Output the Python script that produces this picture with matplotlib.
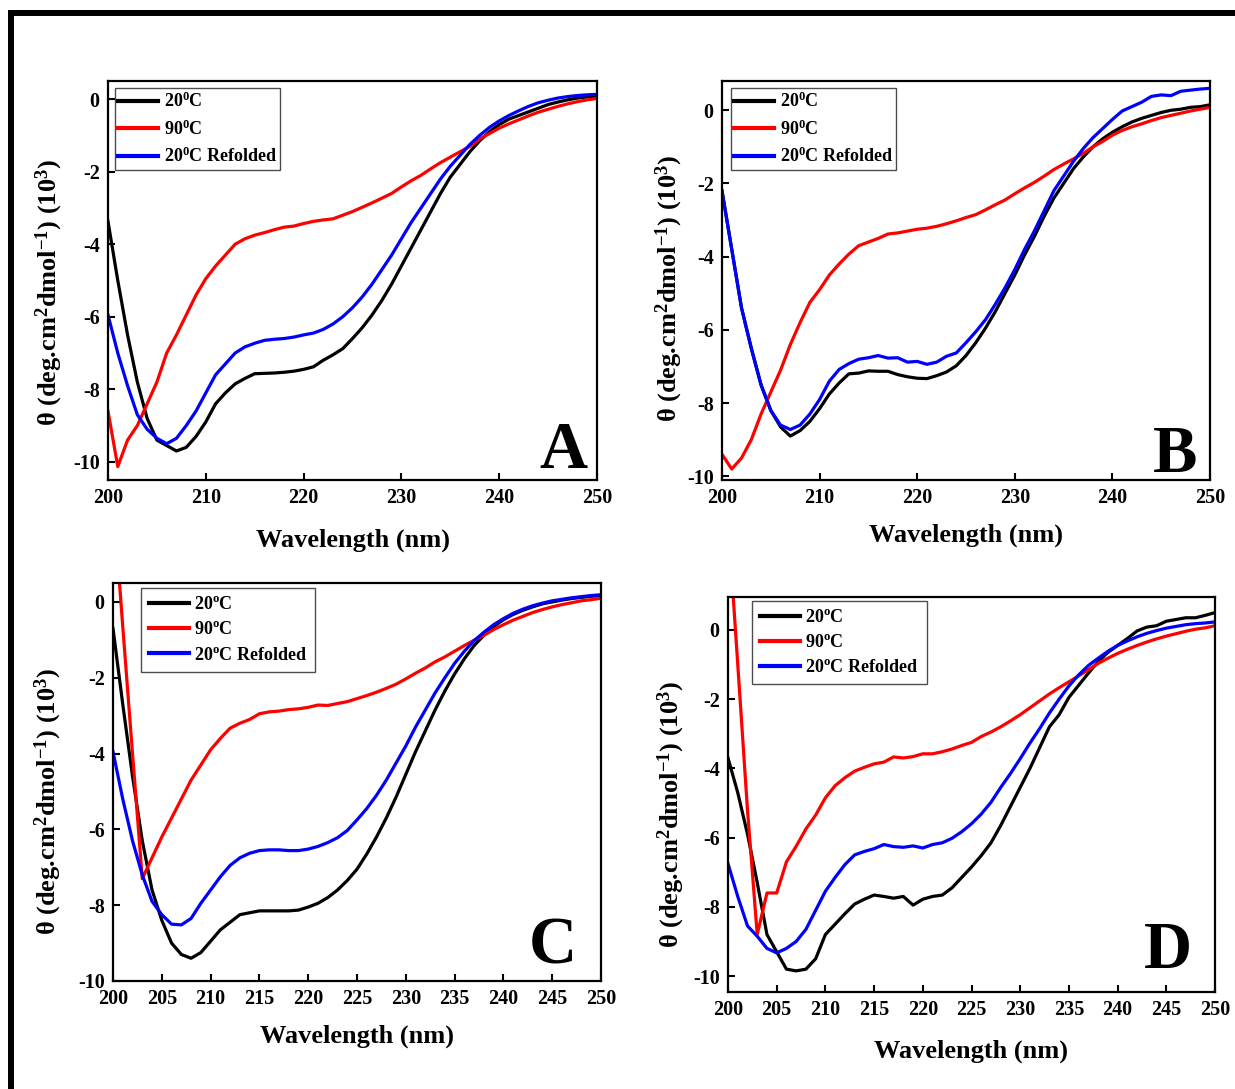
import numpy as np
import matplotlib
matplotlib.use('Agg')
import matplotlib.pyplot as plt
from matplotlib.patches import Rectangle

plt.rcParams['font.family'] = 'Liberation Serif'
plt.rcParams['font.weight'] = 'bold'
plt.rcParams['mathtext.default'] = 'regular'
plt.rcParams['axes.unicode_minus'] = False

# wavelength axis (nm), 1 nm steps
wl = np.arange(200, 251)

# Panel A
a_20 = [-3.37, -5.0, -6.5, -7.8, -8.8, -9.4, -9.55, -9.7, -9.6, -9.3,
        -8.9, -8.4, -8.1, -7.85, -7.7, -7.57, -7.56, -7.55, -7.53, -7.5,
        -7.45, -7.38, -7.2, -7.05, -6.88, -6.6, -6.3, -5.95, -5.55, -5.1,
        -4.6, -4.1, -3.6, -3.1, -2.6, -2.15, -1.8, -1.45, -1.15, -0.9,
        -0.7, -0.55, -0.45, -0.35, -0.25, -0.15, -0.08, -0.02, 0.03, 0.06, 0.08]
a_90 = [-8.6, -10.13, -9.4, -9.0, -8.4, -7.8, -7.0, -6.5, -5.95, -5.4,
        -4.95, -4.6, -4.3, -4.0, -3.85, -3.75, -3.68, -3.6, -3.53, -3.5,
        -3.43, -3.37, -3.33, -3.3, -3.2, -3.1, -2.98, -2.86, -2.73, -2.6,
        -2.42, -2.25, -2.1, -1.92, -1.75, -1.6, -1.45, -1.3, -1.1, -0.95,
        -0.8, -0.68, -0.57, -0.46, -0.36, -0.28, -0.2, -0.13, -0.07, -0.02, 0.02]
a_ref = [-5.95, -7.0, -7.9, -8.7, -9.1, -9.35, -9.5, -9.35, -9.0, -8.6,
         -8.1, -7.6, -7.3, -7.0, -6.83, -6.73, -6.65, -6.62, -6.6, -6.56,
         -6.5, -6.45, -6.35, -6.2, -6.0, -5.75, -5.45, -5.1, -4.7, -4.3,
         -3.85, -3.4, -3.0, -2.6, -2.2, -1.85, -1.55, -1.25, -1.0, -0.78,
         -0.6, -0.45, -0.32, -0.2, -0.1, -0.03, 0.03, 0.07, 0.1, 0.12, 0.13]

# Panel B
b_20 = [-2.2, -3.8, -5.4, -6.5, -7.5, -8.2, -8.65, -8.9, -8.75, -8.5,
        -8.15, -7.75, -7.45, -7.2, -7.18, -7.12, -7.13, -7.13, -7.22, -7.28,
        -7.32, -7.33, -7.25, -7.15, -6.98, -6.7, -6.35, -5.95, -5.5, -5.0,
        -4.5, -3.95, -3.45, -2.9, -2.4, -2.0, -1.6, -1.28, -1.0, -0.78,
        -0.6, -0.45, -0.32, -0.22, -0.14, -0.06, 0.0, 0.03, 0.08, 0.1, 0.15]
b_90 = [-9.4, -9.8, -9.5, -9.0, -8.3, -7.7, -7.1, -6.4, -5.8, -5.25,
        -4.9, -4.5, -4.2, -3.93, -3.7, -3.6, -3.5, -3.38, -3.35, -3.3,
        -3.25, -3.22, -3.17, -3.1, -3.02, -2.93, -2.85, -2.72, -2.58, -2.45,
        -2.28, -2.12, -1.97, -1.8, -1.62, -1.47, -1.33, -1.18, -1.0, -0.85,
        -0.68, -0.55, -0.45, -0.37, -0.28, -0.2, -0.14, -0.08, -0.02, 0.03, 0.08]
b_ref = [-2.2, -3.8, -5.4, -6.5, -7.5, -8.2, -8.6, -8.72, -8.6, -8.3,
         -7.9, -7.4, -7.08, -6.92, -6.8, -6.76, -6.7, -6.77, -6.76, -6.88,
         -6.86, -6.94, -6.88, -6.72, -6.63, -6.35, -6.05, -5.72, -5.3, -4.85,
         -4.35, -3.8, -3.3, -2.75, -2.2, -1.8, -1.4, -1.05, -0.75, -0.5,
         -0.25, -0.02, 0.1, 0.22, 0.38, 0.42, 0.4, 0.52, 0.55, 0.58, 0.6]

# Panel C
c_20 = [-0.7, -2.7, -4.6, -6.3, -7.6, -8.4, -9.0, -9.3, -9.4, -9.25,
        -8.95, -8.65, -8.45, -8.25, -8.2, -8.15, -8.15, -8.15, -8.15, -8.13,
        -8.05, -7.95, -7.8, -7.6, -7.35, -7.05, -6.65, -6.2, -5.7, -5.15,
        -4.55, -3.95, -3.4, -2.85, -2.35, -1.9, -1.5, -1.15, -0.88, -0.65,
        -0.47, -0.33, -0.22, -0.13, -0.05, 0.0, 0.05, 0.09, 0.12, 0.15, 0.17]
c_90 = [2.8, -0.65, -4.0, -7.3, -6.75, -6.2, -5.7, -5.2, -4.7, -4.3,
        -3.9, -3.6, -3.33, -3.2, -3.1, -2.95, -2.9, -2.88, -2.84, -2.82,
        -2.78, -2.72, -2.73, -2.68, -2.63, -2.55, -2.47, -2.38, -2.28, -2.17,
        -2.03, -1.88, -1.74, -1.58, -1.45, -1.3, -1.15, -1.01, -0.88, -0.73,
        -0.6, -0.48, -0.38, -0.28, -0.2, -0.13, -0.07, -0.02, 0.03, 0.06, 0.1]
c_ref = [-3.95, -5.2, -6.3, -7.2, -7.9, -8.25, -8.5, -8.52, -8.35, -7.95,
         -7.6, -7.25, -6.95, -6.75, -6.63, -6.56, -6.54, -6.54, -6.56, -6.56,
         -6.52, -6.45, -6.35, -6.22, -6.03, -5.75, -5.45, -5.1, -4.7, -4.25,
         -3.8, -3.3, -2.85, -2.4, -2.0, -1.62, -1.3, -1.02, -0.8, -0.6,
         -0.44, -0.3, -0.19, -0.1, -0.03, 0.03, 0.07, 0.11, 0.14, 0.17, 0.19]

# Panel D
d_20 = [-3.7, -4.7, -5.9, -7.3, -8.8, -9.3, -9.8, -9.85, -9.8, -9.5,
        -8.8, -8.5, -8.2, -7.92, -7.78, -7.66, -7.7, -7.75, -7.7, -7.95,
        -7.78, -7.7, -7.66, -7.45, -7.15, -6.85, -6.52, -6.15, -5.65, -5.1,
        -4.55, -4.0, -3.4, -2.8, -2.45, -1.95, -1.6, -1.25, -0.92, -0.65,
        -0.45, -0.25, -0.03, 0.08, 0.12, 0.25, 0.3, 0.35, 0.35, 0.42, 0.5]
d_90 = [3.2, -0.99, -5.2, -8.8, -7.6, -7.6, -6.7, -6.25, -5.75, -5.35,
        -4.85, -4.5, -4.27, -4.08, -3.97, -3.87, -3.82, -3.67, -3.7, -3.66,
        -3.58, -3.58, -3.52, -3.44, -3.34, -3.25, -3.08, -2.95, -2.8, -2.63,
        -2.45, -2.25, -2.05, -1.85, -1.67, -1.5, -1.33, -1.15, -0.97, -0.82,
        -0.68, -0.56, -0.45, -0.35, -0.26, -0.18, -0.11, -0.04, 0.02, 0.06, 0.12]
d_ref = [-6.75, -7.7, -8.55, -8.85, -9.2, -9.33, -9.2, -9.0, -8.65, -8.1,
         -7.55, -7.15, -6.78, -6.5, -6.4, -6.32, -6.2, -6.26, -6.28, -6.24,
         -6.3, -6.2, -6.15, -6.02, -5.83, -5.6, -5.32, -4.98, -4.55, -4.15,
         -3.72, -3.27, -2.85, -2.4, -2.0, -1.62, -1.3, -1.03, -0.82, -0.62,
         -0.45, -0.32, -0.2, -0.1, -0.02, 0.05, 0.1, 0.15, 0.18, 0.2, 0.23]

labels_0 = ['20$^0$C', '90$^0$C', '20$^0$C Refolded']
labels_o = ['20$^o$C', '90$^o$C', '20$^o$C Refolded']
colors = ['black', 'red', 'blue']

W, H = 1235, 1089
fig = plt.figure(figsize=(W / 100, H / 100), dpi=100)

# outer frame (runs off the right and bottom edges)
fig.add_artist(Rectangle((11 / W, -0.1), 1.2, 1 - 13 / H + 0.1, transform=fig.transFigure,
                         fill=False, edgecolor='black', linewidth=4.3, clip_on=False))

# (letter, series, labels, box px (l, r, t, b), ylim, xstep, legend anchor, borderpad,
#  ylabel xy, xlabel xy, letter xy)
panels = [
    ('A', [a_20, a_90, a_ref], labels_0, (108, 597, 81, 480), (-10.5, 0.5), 10,
     (0.014, 0.982), 0.2, (-0.12, 0.47), (0.5, -0.15), (0.98, 0.03)),
    ('B', [b_20, b_90, b_ref], labels_0, (722, 1210, 81, 480), (-10.1, 0.8), 10,
     (0.018, 0.982), 0.2, (-0.108, 0.48), (0.5, -0.138), (0.975, 0.02)),
    ('C', [c_20, c_90, c_ref], labels_o, (113, 601, 583, 981), (-10.0, 0.5), 5,
     (0.057, 0.987), 0.45, (-0.132, 0.45), (0.5, -0.14), (0.95, 0.045)),
    ('D', [d_20, d_90, d_ref], labels_o, (728, 1215, 597, 992), (-10.46, 0.95), 5,
     (0.049, 0.99), 0.45, (-0.117, 0.45), (0.5, -0.149), (0.953, 0.06)),
]

for (letter, series, labs, box, ylim, xstep, leg_xy, bpad, ylab_xy, xlab_xy, let_xy) in panels:
    l, r, t, b = box
    ax = fig.add_axes([l / W, 1 - b / H, (r - l) / W, (b - t) / H])
    for ys, c, lab in zip(series, colors, labs):
        ax.plot(wl, ys, color=c, lw=2.3, label=lab)
    ax.set_xlim(200, 250)
    ax.set_ylim(*ylim)
    ax.set_xticks(np.arange(200, 251, xstep))
    ax.set_yticks(np.arange(-10, 1, 2))
    ax.tick_params(direction='in', length=5, width=1.5, labelsize=14.5, pad=6)
    for s in ax.spines.values():
        s.set_linewidth(1.6)

    ax.set_xlabel('Wavelength (nm)', fontsize=19, fontweight='bold', va='center')
    ax.xaxis.set_label_coords(*xlab_xy)
    ax.set_ylabel('θ (deg.cm$^2$dmol$^{-1}$) (10$^3$)', fontsize=19, fontweight='bold', va='center')
    ax.yaxis.set_label_coords(*ylab_xy)

    leg = ax.legend(loc='upper left', bbox_to_anchor=leg_xy, borderaxespad=0,
                    fancybox=False, edgecolor='0.3', framealpha=1,
                    prop={'size': 13, 'weight': 'bold'}, handlelength=2.2,
                    handletextpad=0.3, borderpad=bpad, labelspacing=0.45)
    leg.get_frame().set_linewidth(1.0)
    for h in leg.get_lines():
        h.set_linewidth(3)

    ax.text(let_xy[0], let_xy[1], letter, transform=ax.transAxes, ha='right', va='baseline',
            fontsize=48, fontweight='bold')

fig.savefig('out.png', dpi=100)
